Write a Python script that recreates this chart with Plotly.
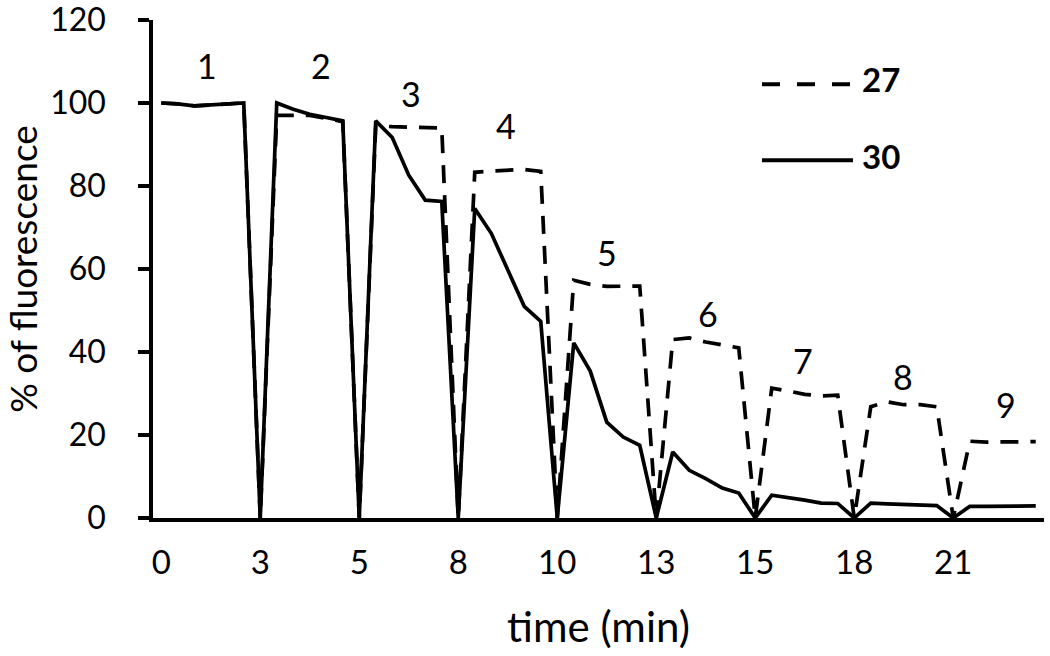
import plotly.graph_objects as go

# ---- data ----
sample_index = list(range(54))  # measurement number (category positions)

series_27 = [100, 99.8, 99.3, 99.5, 99.8, 100, 0,
             97.0, 97.0, 97.0, 96.3, 95.5, 0,
             94.5, 94.3, 94.2, 94.0, 94.0, 0,
             83.3, 83.6, 83.8, 84.0, 83.5, 0,
             57.3, 56.3, 55.8, 55.9, 55.9, 0,
             43.0, 43.4, 42.4, 41.7, 41.0, 0,
             31.3, 30.6, 29.8, 29.4, 29.6, 0,
             26.8, 28.0, 27.3, 27.3, 26.8, 0,
             18.5, 18.3, 18.3, 18.4, 18.4]

series_30 = [100, 99.8, 99.3, 99.5, 99.8, 100, 0,
             100, 98.5, 97.3, 96.5, 95.7, 0,
             95.7, 91.7, 82.6, 76.6, 76.3, 0,
             74.6, 68.6, 59.9, 51.0, 47.4, 0,
             42.2, 35.4, 23.1, 19.5, 17.5, 0,
             15.9, 11.5, 9.5, 7.2, 6.0, 0,
             5.5, 5.0, 4.3, 3.6, 3.5, 0,
             3.6, 3.4, 3.3, 3.2, 3.0, 0,
             2.8, 2.8, 2.8, 2.8, 2.9]

tick_positions = [0, 6, 12, 18, 24, 30, 36, 42, 48]
tick_labels = ["0", "3", "5", "8", "10", "13", "15", "18", "21"]

cycle_labels = ["1", "2", "3", "4", "5", "6", "7", "8", "9"]
series_names = ["27", "30"]

# ---- layout helpers (positions, not data) ----
cycle_label_pos = [(2.8, 109.0), (9.7, 109.0), (15.15, 102.2), (20.9, 94.6),
                   (27.0, 63.9), (33.15, 49.3), (38.9, 38.0), (44.97, 34.2),
                   (51.2, 27.3)]

FONT = "Lato, Open Sans, sans-serif"
BLACK = "#000000"

fig = go.Figure()
fig.add_trace(go.Scatter(x=sample_index, y=series_27, mode="lines",
                         name=series_names[0], showlegend=False,
                         line=dict(color=BLACK, width=3.7, dash="18px,12px")))
fig.add_trace(go.Scatter(x=sample_index, y=series_30, mode="lines",
                         name=series_names[1], showlegend=False,
                         line=dict(color=BLACK, width=3.7)))

for txt, (xv, yv) in zip(cycle_labels, cycle_label_pos):
    fig.add_annotation(x=xv, y=yv, xref="x", yref="y", text=txt,
                       showarrow=False, font=dict(family=FONT, size=34, color=BLACK))

# legend drawn manually (long line samples like the original)
fig.add_shape(type="line", xref="paper", yref="paper",
              x0=0.6835, x1=0.7834, y0=0.871, y1=0.871,
              line=dict(color=BLACK, width=4, dash="18px,17px"))
fig.add_shape(type="line", xref="paper", yref="paper",
              x0=0.6835, x1=0.7856, y0=0.7186, y1=0.7186,
              line=dict(color=BLACK, width=4))
fig.add_annotation(x=0.7935, y=0.881, xref="paper", yref="paper",
                   text="<b>%s</b>" % series_names[0], showarrow=False,
                   xanchor="left", yanchor="middle",
                   font=dict(family=FONT, size=33, color=BLACK))
fig.add_annotation(x=0.7935, y=0.726, xref="paper", yref="paper",
                   text="<b>%s</b>" % series_names[1], showarrow=False,
                   xanchor="left", yanchor="middle",
                   font=dict(family=FONT, size=33, color=BLACK))

fig.update_layout(
    width=1050, height=656,
    margin=dict(l=153, r=6, t=20, b=138, autoexpand=False),
    paper_bgcolor="white", plot_bgcolor="white",
    font=dict(family=FONT, color=BLACK),
    showlegend=False,
)
fig.update_xaxes(
    range=[-0.5, 53.5], showgrid=False, zeroline=False, automargin=False,
    showline=True, linecolor=BLACK, linewidth=3.5,
    tickmode="array", tickvals=tick_positions, ticktext=tick_labels,
    ticks="", tickfont=dict(family=FONT, size=33, color=BLACK),
    ticklabelstandoff=13,
    title=dict(text="time (min)", font=dict(family=FONT, size=42, color=BLACK), standoff=33),
)
fig.update_yaxes(
    range=[0, 120], dtick=20, showgrid=False, zeroline=False, automargin=False,
    showline=True, linecolor=BLACK, linewidth=3.5,
    ticks="outside", ticklen=11, tickwidth=3.5, tickcolor=BLACK,
    tickfont=dict(family=FONT, size=32, color=BLACK),
    ticklabelstandoff=26, ticklabeloverflow="allow",
    title=dict(text="% of fluorescence", font=dict(family=FONT, size=37, color=BLACK), standoff=16),
)

fig.write_html("out.html",
               config={"displayModeBar": False},
               post_script="document.body.style.margin='0';document.body.style.overflow='hidden';")
